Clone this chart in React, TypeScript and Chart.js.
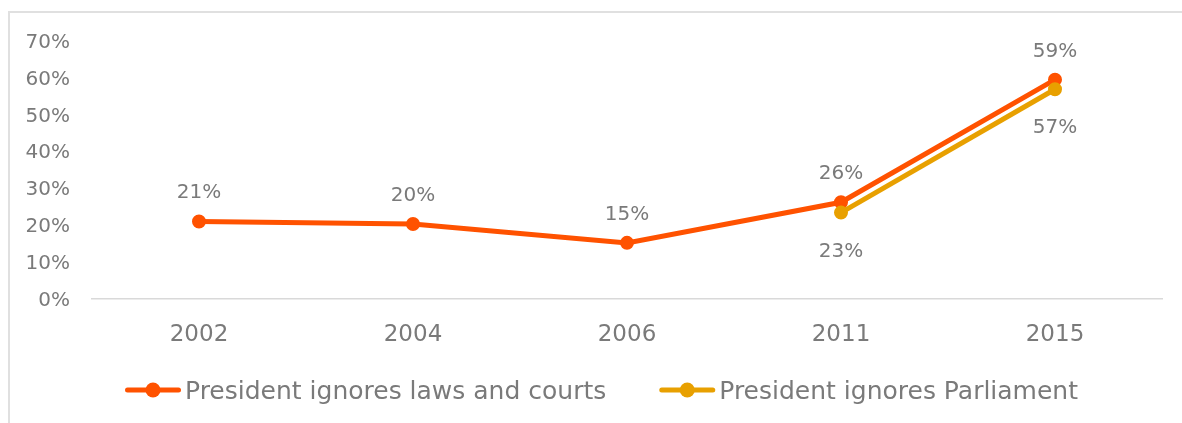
import React, { useEffect, useRef } from "react";
import { Chart, registerables } from "chart.js";

Chart.register(...registerables);

const years = ["2002", "2004", "2006", "2011", "2015"];
const lawsAndCourts = [21, 20.3, 15.2, 26.2, 59.4];
const parliament = [null, null, null, 23.4, 56.8];
const seriesNames = ["President ignores laws and courts", "President ignores Parliament"];
const yMin = 0;
const yMax = 70;
const yStep = 10;

const ORANGE = "#FF5200";
const GOLD = "#E8A000";
const GRAY = "#7a7a7a";
const AXIS = "#d9d9d9";
const FRAME = "#e0e0e0";
const FONT = "'DejaVu Sans', sans-serif";

const framePlugin = {
  id: "frame",
  beforeDraw(chart: any) {
    const ctx = chart.ctx;
    ctx.save();
    ctx.fillStyle = "#ffffff";
    ctx.fillRect(0, 0, chart.width, chart.height);
    ctx.fillStyle = FRAME;
    ctx.fillRect(8, 11, chart.width - 8, 2);
    ctx.fillRect(8, 11, 2, chart.height - 11);
    ctx.restore();
  },
};

const dataLabelPlugin = {
  id: "dataLabels",
  afterDatasetsDraw(chart: any) {
    const ctx = chart.ctx;
    ctx.save();
    ctx.font = `20px ${FONT}`;
    ctx.fillStyle = GRAY;
    ctx.textAlign = "center";
    ctx.textBaseline = "alphabetic";
    chart.data.datasets.forEach((ds: any, i: number) => {
      const meta = chart.getDatasetMeta(i);
      meta.data.forEach((pt: any, j: number) => {
        const v = ds.data[j];
        if (v === null || v === undefined) return;
        ctx.fillText(`${Math.round(v)}%`, pt.x, pt.y + ds.labelOffset);
      });
    });
    ctx.restore();
  },
};

const lineLegendPlugin = {
  id: "lineLegend",
  afterDraw(chart: any) {
    const ctx = chart.ctx;
    ctx.save();
    ctx.font = `25px ${FONT}`;
    const markerW = 56;
    const gapText = 4;
    const gapItem = 53;
    const items = chart.data.datasets.map((ds: any) => ({
      label: ds.label,
      color: ds.borderColor,
      w: ctx.measureText(ds.label).width,
    }));
    const total =
      items.reduce((s: number, it: any) => s + markerW + gapText + it.w, 0) +
      gapItem * (items.length - 1);
    let x = chart.width / 2 - total / 2 + 10.5;
    const baseline = 399;
    const cy = baseline - 9;
    items.forEach((it: any) => {
      ctx.strokeStyle = it.color;
      ctx.lineWidth = 5;
      ctx.lineCap = "round";
      ctx.beginPath();
      ctx.moveTo(x + 2.5, cy);
      ctx.lineTo(x + markerW - 2.5, cy);
      ctx.stroke();
      ctx.fillStyle = it.color;
      ctx.beginPath();
      ctx.arc(x + markerW / 2, cy, 7.5, 0, Math.PI * 2);
      ctx.fill();
      ctx.fillStyle = GRAY;
      ctx.textAlign = "left";
      ctx.textBaseline = "alphabetic";
      ctx.fillText(it.label, x + markerW + gapText, baseline);
      x += markerW + gapText + it.w + gapItem;
    });
    ctx.restore();
  },
};

export default function App() {
  const canvasRef = useRef<HTMLCanvasElement | null>(null);

  useEffect(() => {
    document.documentElement.style.overflow = "hidden";
    if (!canvasRef.current) return;
    const chart = new Chart(canvasRef.current, {
      type: "line",
      data: {
        labels: years,
        datasets: [
          {
            label: seriesNames[0],
            data: lawsAndCourts,
            borderColor: ORANGE,
            backgroundColor: ORANGE,
            pointBackgroundColor: ORANGE,
            pointBorderColor: ORANGE,
            borderWidth: 5,
            pointRadius: 6,
            pointBorderWidth: 2,
            tension: 0,
            order: 1,
            labelOffset: -23,
          } as any,
          {
            label: seriesNames[1],
            data: parliament,
            borderColor: GOLD,
            backgroundColor: GOLD,
            pointBackgroundColor: GOLD,
            pointBorderColor: GOLD,
            borderWidth: 5,
            pointRadius: 6,
            pointBorderWidth: 2,
            tension: 0,
            order: 0,
            labelOffset: 44,
          } as any,
        ],
      },
      options: {
        responsive: false,
        animation: false,
        layout: { padding: { left: 0, right: 20, top: 40.5, bottom: 0 } },
        plugins: {
          legend: { display: false },
          tooltip: { enabled: false },
        },
        scales: {
          x: {
            offset: true,
            grid: { display: false, drawTicks: false },
            border: { display: true, color: AXIS, width: 1.5 },
            ticks: {
              color: GRAY,
              font: { family: FONT, size: 23 },
              padding: 22,
              maxRotation: 0,
            },
            afterFit: (scale: any) => {
              scale.height = 124;
              scale.paddingLeft = 0;
              scale.paddingRight = 0;
            },
          },
          y: {
            min: yMin,
            max: yMax,
            grid: { display: false, drawTicks: false },
            border: { display: false },
            ticks: {
              stepSize: yStep,
              color: GRAY,
              font: { family: FONT, size: 20 },
              padding: 22,
              labelOffset: 2,
              callback: (v: any) => `${v}%`,
            },
            afterFit: (scale: any) => {
              scale.width = 92;
              scale.paddingTop = 0;
              scale.paddingBottom = 0;
            },
          },
        },
      },
      plugins: [framePlugin, dataLabelPlugin, lineLegendPlugin],
    });
    return () => chart.destroy();
  }, []);

  return (
    <canvas
      ref={canvasRef}
      width={1182}
      height={423}
      style={{ display: "block", position: "absolute", left: 0, top: 0 }}
    />
  );
}
